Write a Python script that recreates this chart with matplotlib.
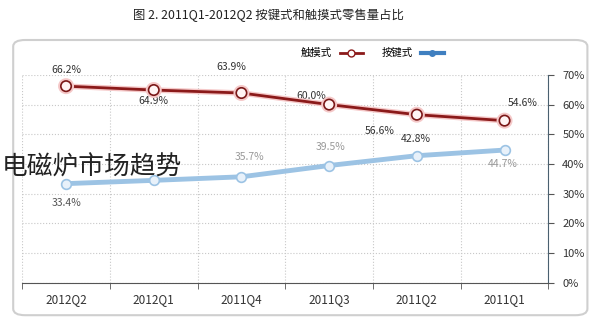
import matplotlib
matplotlib.use('Agg')
import matplotlib.pyplot as plt
from matplotlib.patches import FancyBboxPatch
from matplotlib.lines import Line2D
import matplotlib.patheffects as pe

plt.rcParams['font.family'] = ['Noto Sans CJK SC', 'DejaVu Sans']

# data (chart is drawn right-to-left, like the reference)
quarters = ['2011Q1', '2011Q2', '2011Q3', '2011Q4', '2012Q1', '2012Q2']
touch = [54.6, 56.6, 60.0, 63.9, 64.9, 66.2]
button = [44.7, 42.8, 39.5, 35.7, 34.5, 33.4]
touch_labels = ['54.6%', '56.6%', '60.0%', '63.9%', '64.9%', '66.2%']
button_labels = ['44.7%', '42.8%', '39.5%', '35.7%', '', '33.4%']

fig = plt.figure(figsize=(6, 3.2), dpi=100)
fig.patch.set_facecolor('white')

# rounded frame around the chart
box = FancyBboxPatch((0.022, 0.015), 0.957, 0.86, boxstyle='round,pad=0,rounding_size=0.02',
                     transform=fig.transFigure, fc='none', ec='#cfcfcf', lw=1.5, zorder=0)
fig.patches.append(box)

ax = fig.add_axes([0.037, 0.116, 0.877, 0.65])
ax.patch.set_alpha(0)
x = list(range(len(quarters)))

ax.plot(x, button, color='#9cc3e4', lw=3.5, marker='o', ms=7, mfc='#e8f1fa',
        mec='#9cc3e4', mew=1.2, zorder=3)
ax.plot(x, touch, color='#8b1a1a', lw=2, marker='o', ms=7.5, mfc='#fff4f4',
        mec='#7a1818', mew=1.2, zorder=4,
        path_effects=[pe.Stroke(linewidth=4, foreground='#f5c8c8'), pe.Normal()])

# value labels (offsets in points)
t_off = [(13, 13), (-27, -11.5), (-13, 6), (-7, 19), (0, -8), (0, 12)]
b_off = [(-1, -10), (-1, 12), (1, 13), (6, 14), (0, 0), (0, -14)]
t_col = ['#333333'] * 6
b_col = ['#999999', '#333333', '#999999', '#999999', '#999999', '#555555']
for i in x:
    ax.annotate(touch_labels[i], (i, touch[i]), xytext=t_off[i], textcoords='offset points',
                ha='center', va='center', fontsize=7.5, color=t_col[i])
    if button_labels[i]:
        ax.annotate(button_labels[i], (i, button[i]), xytext=b_off[i], textcoords='offset points',
                    ha='center', va='center', fontsize=7.5, color=b_col[i])

ax.set_xlim(-0.5, 5.5)
ax.invert_xaxis()
ax.set_ylim(0, 70)
ax.set_yticks(range(0, 71, 10))
ax.set_yticklabels(['%d%%' % v for v in range(0, 71, 10)], fontsize=8, color='#333333')
ax.yaxis.tick_right()
ax.set_xticks(x)
ax.set_xticklabels(quarters, fontsize=8.5, color='#333333')
ax.set_xticks([i - 0.5 for i in range(7)], minor=True)
ax.tick_params(axis='x', which='major', length=0, pad=7)
ax.tick_params(axis='x', which='minor', length=4, color='#555555')
ax.tick_params(axis='y', length=4, color='#555555', pad=6)
ax.grid(True, axis='y', ls=':', color='#c8c8c8', lw=0.8)
ax.grid(True, axis='x', which='minor', ls=':', color='#c8c8c8', lw=0.8)
for s in ['top', 'left']:
    ax.spines[s].set_visible(False)
ax.spines['right'].set_color('#4a6070')
ax.spines['bottom'].set_color('#555555')

# legend
h1 = Line2D([], [], color='#3f7fc0', lw=3, marker='o', ms=4, mfc='#3f7fc0')
h2 = Line2D([], [], color='#8b1a1a', lw=2, marker='o', ms=5, mfc='white', mec='#8b1a1a')
fig.legend([h2, h1], ['触摸式', '按键式'], loc='center', bbox_to_anchor=(0.62, 0.834),
           ncol=2, frameon=False, fontsize=7.5, handlelength=2.2, columnspacing=1.8,
           markerfirst=False)

fig.text(0.447, 0.953, '图 2. 2011Q1-2012Q2 按键式和触摸式零售量占比', ha='center', va='center',
         fontsize=8.9, color='#222222')
fig.text(0.003, 0.475, '电磁炉市场趋势', ha='left', va='center', fontsize=18.5,
         color='#222222', fontweight='light')

fig.savefig('out.png', dpi=100)
